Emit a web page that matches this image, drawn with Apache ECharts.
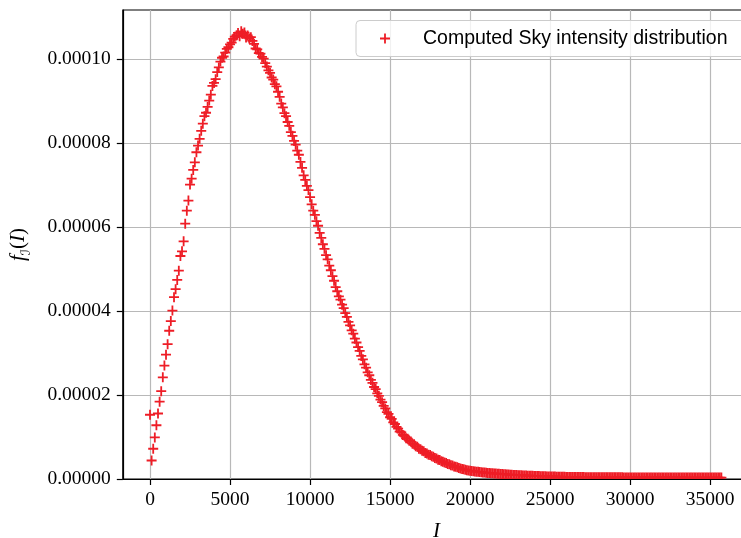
<!DOCTYPE html>
<html>
<head>
<meta charset="utf-8">
<script src="https://cdn.jsdelivr.net/npm/echarts@6/dist/echarts.min.js"></script>
<style>
html,body{margin:0;padding:0;background:#fff;}
#chart{width:741px;height:538px;}
</style>
</head>
<body>
<div id="chart"></div>
<script>
// Intensity values I (x)
var intensity = [
0,100,200,300,400,500,600,700,800,900,
1000,1100,1200,1300,1400,1500,1600,1700,1800,1900,
2000,2100,2200,2300,2400,2500,2600,2700,2800,2900,
3000,3100,3200,3300,3400,3500,3600,3700,3800,3900,
4000,4100,4200,4300,4400,4500,4600,4700,4800,4900,
5000,5100,5200,5300,5400,5500,5600,5700,5800,5900,
6000,6100,6200,6300,6400,6500,6600,6700,6800,6900,
7000,7100,7200,7300,7400,7500,7600,7700,7800,7900,
8000,8100,8200,8300,8400,8500,8600,8700,8800,8900,
9000,9100,9200,9300,9400,9500,9600,9700,9800,9900,
10000,10100,10200,10300,10400,10500,10600,10700,10800,10900,
11000,11100,11200,11300,11400,11500,11600,11700,11800,11900,
12000,12100,12200,12300,12400,12500,12600,12700,12800,12900,
13000,13100,13200,13300,13400,13500,13600,13700,13800,13900,
14000,14100,14200,14300,14400,14500,14600,14700,14800,14900,
15000,15100,15200,15300,15400,15500,15600,15700,15800,15900,
16000,16100,16200,16300,16400,16500,16600,16700,16800,16900,
17000,17100,17200,17300,17400,17500,17600,17700,17800,17900,
18000,18100,18200,18300,18400,18500,18600,18700,18800,18900,
19000,19100,19200,19300,19400,19500,19600,19700,19800,19900,
20000,20100,20200,20300,20400,20500,20600,20700,20800,20900,
21000,21100,21200,21300,21400,21500,21600,21700,21800,21900,
22000,22100,22200,22300,22400,22500,22600,22700,22800,22900,
23000,23100,23200,23300,23400,23500,23600,23700,23800,23900,
24000,24100,24200,24300,24400,24500,24600,24700,24800,24900,
25000,25100,25200,25300,25400,25500,25600,25700,25800,25900,
26000,26100,26200,26300,26400,26500,26600,26700,26800,26900,
27000,27100,27200,27300,27400,27500,27600,27700,27800,27900,
28000,28100,28200,28300,28400,28500,28600,28700,28800,28900,
29000,29100,29200,29300,29400,29500,29600,29700,29800,29900,
30000,30100,30200,30300,30400,30500,30600,30700,30800,30900,
31000,31100,31200,31300,31400,31500,31600,31700,31800,31900,
32000,32100,32200,32300,32400,32500,32600,32700,32800,32900,
33000,33100,33200,33300,33400,33500,33600,33700,33800,33900,
34000,34100,34200,34300,34400,34500,34600,34700,34800,34900,
35000,35100,35200,35300,35400,35500,35600,35700
];
// Density f_I(I) in units of 1e-6
var densityMicro = [
15.3,4.4,7.2,9.9,12.8,15.6,18.4,20.9,24.2,27.0,
29.6,32.1,35.3,37.6,40.1,43.3,45.2,47.4,49.6,53.1,
54.2,56.6,60.8,63.9,66.3,70.1,71.5,73.6,75.4,77.8,
79.4,81.0,82.9,84.6,86.4,87.2,88.6,90.1,91.5,93.6,
94.3,95.2,96.9,98.0,99.4,100.3,100.6,101.5,102.4,102.8,
103.5,103.9,104.8,105.3,105.6,106.2,105.4,106.6,106.0,106.3,
105.1,105.6,104.9,105.2,104.3,103.6,102.5,102.3,101.4,101.3,
100.5,100.1,99.0,98.2,97.3,96.7,95.6,95.1,94.0,93.5,
92.2,91.0,89.4,88.5,87.1,86.4,85.0,84.1,82.6,81.7,
80.5,79.6,78.2,77.2,75.5,74.1,72.3,71.2,69.8,68.8,
67.1,65.4,63.9,62.9,61.4,60.3,58.6,57.4,55.9,54.8,
53.3,52.3,50.8,49.7,48.3,47.2,45.7,44.7,43.5,42.7,
41.5,40.7,39.5,38.6,37.4,36.6,35.4,34.6,33.4,32.5,
31.4,30.5,29.3,28.5,27.3,26.5,25.4,24.7,23.6,22.9,
21.9,21.4,20.4,19.8,18.9,18.3,17.4,16.8,15.9,15.5,
14.7,14.3,13.5,13.1,12.4,12.0,11.3,11.1,10.5,10.3,
9.7,9.6,9.1,8.9,8.4,8.3,7.8,7.7,7.2,7.1,
6.7,6.6,6.2,6.1,5.8,5.7,5.4,5.3,5.0,4.9,
4.6,4.5,4.2,4.1,3.9,3.8,3.6,3.5,3.3,3.2,
3.0,2.9,2.8,2.6,2.5,2.4,2.3,2.2,2.1,2.0,
1.95,1.90,1.85,1.80,1.75,1.70,1.66,1.61,1.57,1.53,
1.49,1.45,1.42,1.38,1.35,1.32,1.29,1.26,1.23,1.20,
1.17,1.14,1.11,1.08,1.06,1.03,1.01,0.98,0.96,0.94,
0.92,0.90,0.88,0.86,0.84,0.82,0.80,0.78,0.77,0.75,
0.74,0.72,0.71,0.69,0.68,0.66,0.65,0.63,0.62,0.61,
0.60,0.59,0.58,0.57,0.56,0.55,0.54,0.53,0.52,0.51,
0.50,0.50,0.49,0.49,0.48,0.48,0.47,0.47,0.46,0.46,
0.45,0.45,0.44,0.44,0.43,0.43,0.42,0.42,0.41,0.41,
0.41,0.40,0.40,0.40,0.40,0.40,0.40,0.40,0.39,0.39,
0.39,0.39,0.39,0.39,0.39,0.39,0.38,0.38,0.38,0.38,
0.38,0.38,0.38,0.38,0.38,0.38,0.37,0.37,0.37,0.37,
0.37,0.37,0.37,0.37,0.37,0.37,0.37,0.36,0.36,0.36,
0.36,0.36,0.36,0.36,0.36,0.36,0.36,0.36,0.36,0.36,
0.36,0.36,0.36,0.35,0.35,0.35,0.35,0.35,0.35,0.35,
0.35,0.35,0.35,0.35,0.35,0.35,0.35,0.35,0.35,0.35,
0.35,0.35,0.35,0.35,0.35,0.35,0.35,0.35
];
var xTicks = [0,5000,10000,15000,20000,25000,30000,35000];
var yTicksMicro = [0,20,40,60,80,100];
var seriesName = 'Computed Sky intensity distribution';

var points = intensity.map(function(x, i){ return [x, densityMicro[i]]; });

var RED = '#ee1d26';
var PLUS = 'path://M41,0H59V41H100V59H59V100H41V59H0V41H41Z';
var SERIF = 'Liberation Serif';

var chart = echarts.init(document.getElementById('chart'), null, {renderer:'canvas'});
chart.setOption({
  animation: false,
  backgroundColor: '#fff',
  grid: {left: 122.8, right: -9.2, top: 10, bottom: 59, outerBoundsMode: 'none', containLabel: false,
    show: true, borderColor: '#000', borderWidth: 1.2, backgroundColor: 'transparent'},
  legend: {
    data: [seriesName],
    left: 356, top: 20.5,
    padding: [8, 20, 8, 24],
    itemWidth: 10, itemHeight: 10,
    backgroundColor: 'rgba(255,255,255,0.8)',
    borderColor: '#cccccc', borderWidth: 1, borderRadius: 4,
    textStyle: {fontFamily: 'Liberation Sans', fontSize: 19.5, color: '#000', padding: [0,0,0,28], lineHeight: 20}
  },
  xAxis: [{
    type: 'value', position: 'bottom', min: -1700, max: 37500, z: 0,
    axisLine: {show: false}, axisTick: {show: false, customValues: xTicks},
    axisLabel: {show: false, customValues: xTicks},
    splitLine: {show: true, lineStyle: {color: '#b8b8b8', width: 1.2}}
  }, {
    type: 'value', position: 'bottom', min: -1700, max: 37500, z: 100,
    axisLine: {show: true, onZero: false, lineStyle: {color: '#000', width: 1.2}},
    axisTick: {show: true, length: 6, customValues: xTicks, lineStyle: {color: '#000', width: 1.2}},
    axisLabel: {customValues: xTicks, margin: 11, color: '#000', fontFamily: SERIF, fontSize: 19.5,
      formatter: function(v){ return String(v); }},
    splitLine: {show: false},
    name: 'I', nameLocation: 'middle', nameGap: 42,
    nameTextStyle: {fontFamily: SERIF, fontStyle: 'italic', fontSize: 21, color: '#000'}
  }],
  yAxis: {
    type: 'value', min: 0, max: 111.67,
    axisLine: {show: true, onZero: false, lineStyle: {color: '#000', width: 1.2}},
    axisTick: {show: true, length: 6, customValues: yTicksMicro, lineStyle: {color: '#000', width: 1.2}},
    axisLabel: {customValues: yTicksMicro, margin: 12, color: '#000', fontFamily: SERIF, fontSize: 19.5,
      formatter: function(v){ return (v * 1e-6).toFixed(5); }},
    splitLine: {show: true, lineStyle: {color: '#b8b8b8', width: 1.2}},
    name: '{i|f}{s|ℐ}{r|(}{i|I}{r|)}', nameLocation: 'middle', nameGap: 90,
    nameTextStyle: {color: '#000', rich: {
      i: {fontFamily: SERIF, fontStyle: 'italic', fontSize: 21, lineHeight: 28, verticalAlign: 'middle', color: '#000'},
      r: {fontFamily: SERIF, fontSize: 21, lineHeight: 28, verticalAlign: 'middle', color: '#000'},
      s: {fontFamily: 'DejaVu Sans', fontStyle: 'italic', fontSize: 13, lineHeight: 28, verticalAlign: 'bottom', color: '#000'}
    }}
  },
  graphic: [{
    type: 'rect', z: 50, silent: true,
    shape: {x: 123.6, y: 479.7, width: 640, height: 12},
    style: {fill: '#fff'}
  }],
  series: [{
    name: seriesName, type: 'scatter', xAxisIndex: 0,
    data: points,
    symbol: PLUS, symbolSize: 10, symbolKeepAspect: true,
    itemStyle: {color: RED, opacity: 1},
    z: 2
  }]
});
</script>
</body>
</html>
